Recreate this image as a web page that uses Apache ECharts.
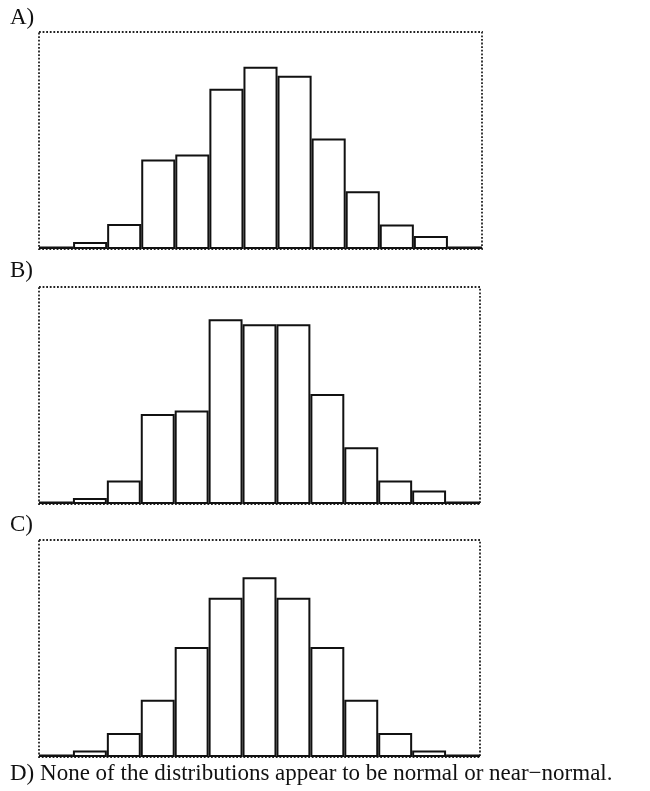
<!DOCTYPE html>
<html>
<head>
<meta charset="utf-8">
<script src="https://cdn.jsdelivr.net/npm/echarts@6/dist/echarts.min.js"></script>
<style>
  html, body { margin: 0; padding: 0; background: #fff; }
  #chart { width: 650px; height: 791px; }
</style>
</head>
<body>
<div id="chart"></div>
<script>
// 13 bins, heights (arbitrary units, frame top = 218)
var bins = ['1', '2', '3', '4', '5', '6', '7', '8', '9', '10', '11', '12', '13'];
var histA = [2.5, 7, 25, 90, 95, 161, 183, 174, 111, 58, 24.5, 13, 2.5];
var histB = [2.5, 6, 23.5, 90.5, 94, 185.5, 180.5, 180.5, 110.5, 57, 23.5, 13.5, 2.5];
var histC = [2.5, 6.5, 24, 57.5, 110.5, 160, 180.5, 160, 110.5, 57.5, 24, 6.5, 2.5];
var yMax = 218;

var labels = ['A)', 'B)', 'C)'];
var answerD = 'D) None of the distributions appear to be normal or near\u2212normal.';

var serif = '"Liberation Serif", "DejaVu Serif", serif';
var gridTops = [32, 287, 540];
var labelTops = [6, 259, 513];

var chart = echarts.init(document.getElementById('chart'));

var grids = [], xAxes = [], yAxes = [], series = [], titles = [];
var all = [histA, histB, histC];

// the near-empty end bins show as a thick black line on the baseline
function toItems(arr) {
    return arr.map(function (v, k) {
        if (k === 0 || k === arr.length - 1) {
            return { value: v, itemStyle: { color: '#111', borderWidth: 0 } };
        }
        return v;
    });
}

for (var i = 0; i < 3; i++) {
    grids.push({
        show: true,
        left: 39,
        top: gridTops[i],
        width: i === 0 ? 443 : 441,
        height: 217,
        borderColor: '#222',
        borderWidth: 1.8,
        borderType: 'dotted',
        backgroundColor: 'transparent'
    });
    xAxes.push({
        type: 'category',
        gridIndex: i,
        data: bins,
        axisLine: { show: false },
        axisTick: { show: false },
        axisLabel: { show: false }
    });
    yAxes.push({
        type: 'value',
        gridIndex: i,
        min: 0,
        max: yMax,
        axisLine: { show: false },
        axisTick: { show: false },
        axisLabel: { show: false },
        splitLine: { show: false }
    });
    series.push({
        type: 'bar',
        xAxisIndex: i,
        yAxisIndex: i,
        data: toItems(all[i]),
        barCategoryGap: 0,
        silent: true,
        animation: false,
        itemStyle: {
            color: '#fff',
            borderColor: '#111',
            borderWidth: 2
        }
    });
    titles.push({
        text: labels[i],
        left: 10,
        top: labelTops[i],
        padding: 0,
        textStyle: { fontFamily: serif, fontSize: 23, fontWeight: 'normal', color: '#111' }
    });
}

titles.push({
    text: answerD,
    left: 10,
    top: 762,
    padding: 0,
    textStyle: { fontFamily: serif, fontSize: 23, fontWeight: 'normal', color: '#111' }
});

chart.setOption({
    animation: false,
    title: titles,
    grid: grids,
    xAxis: xAxes,
    yAxis: yAxes,
    series: series
});
</script>
</body>
</html>
